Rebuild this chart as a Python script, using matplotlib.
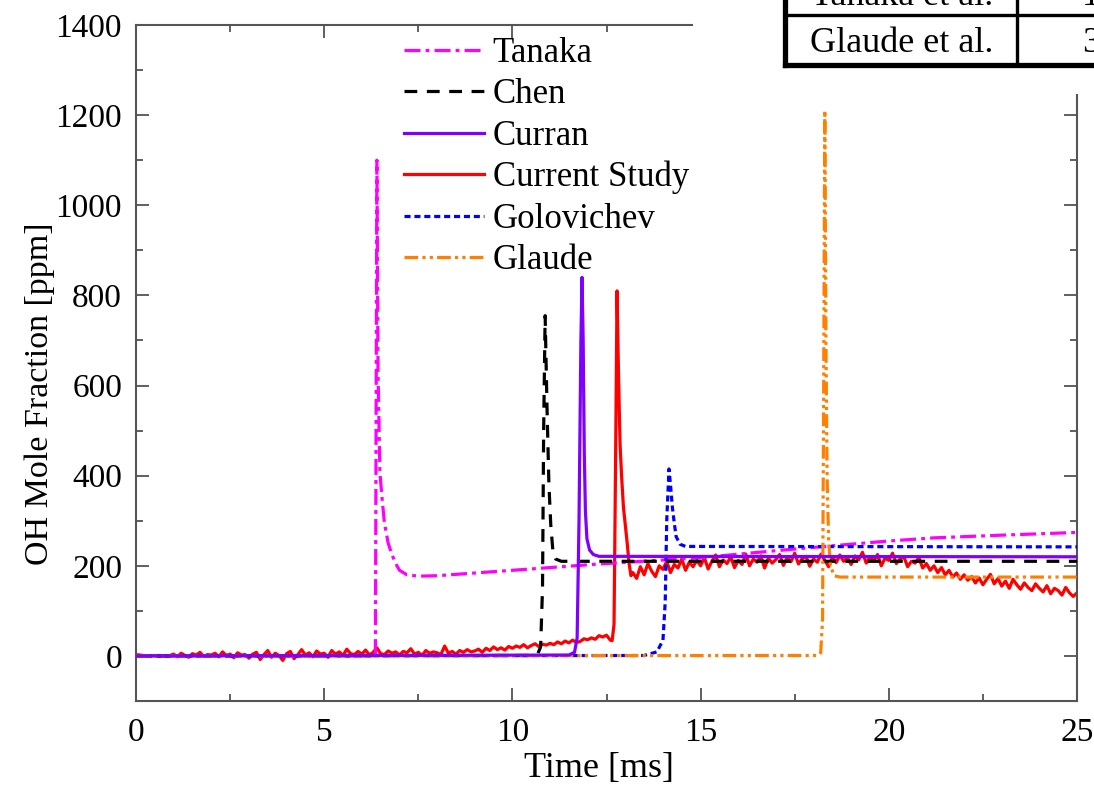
import numpy as np
import matplotlib
matplotlib.use("Agg")
import matplotlib.pyplot as plt
from matplotlib.patches import Rectangle
from matplotlib.lines import Line2D

plt.rcParams['font.family'] = ['Liberation Serif', 'DejaVu Serif']

# ---------------- data ----------------
tanaka_t = [0, 6.36, 6.40, 6.43, 6.48, 6.54, 6.60, 6.70, 6.80, 6.90, 7.0, 7.2, 7.5, 8.0,
            10.0, 12.3, 15.0, 16.8, 18.3, 20.0, 21.2, 23.0, 25.0]
tanaka_y = [0, 0, 1100, 630, 407, 347, 295, 250, 225, 205, 190, 180, 177, 178,
            190, 204, 218, 232, 243, 255, 262, 268, 274]

chen_t = [0, 10.5, 10.68, 10.75, 10.80, 10.83, 10.87, 10.92, 10.97, 11.02, 11.08, 11.15, 11.3, 25.0]
chen_y = [0, 1, 6, 20, 150, 500, 755, 550, 380, 290, 229, 215, 210, 210]

curran_t = [0, 11.5, 11.65, 11.72, 11.77, 11.82, 11.85, 11.88, 11.91, 11.94, 11.98, 12.05, 12.15, 12.3, 25.0]
curran_y = [0, 2, 8, 40, 300, 700, 840, 700, 450, 320, 260, 235, 225, 221, 220]

# Current study (measured trace)
study_pre_t0, study_pre_dt = 0.0, 0.1
study_pre_y = [3, 2, 1, 0, 0, 1, 0, 0, 0, 1,
               4, -2, 6, 1, -3, 5, 2, 8, -1, 3,
               2, 6, -2, 9, 1, 4, -4, 7, 2, 3,
               -5, 4, 8, -8, 3, 12, -3, 6, 1, -10,
               5, 10, -6, 3, 14, 2, 7, -2, 11, 4,
               6, -3, 12, 4, 9, 1, 15, 5, 3, 10,
               4, 13, 2, 8, 18, 5, 3, 11, 6, 9,
               2, 10, 7, 16, 4, 8, 1, 12, 6, 9,
               7, 3, 22, 6, 10, 4, 12, 8, 14, 9,
               11, 15, 8, 17, 12, 20, 14, 18, 13, 21,
               17, 22, 19, 25, 18, 23, 27, 21, 26, 24,
               28, 25, 31, 27, 33, 29, 35, 30, 32, 38,
               36, 40, 37, 45, 42, 46, 35]
study_spike_t = [12.65, 12.70, 12.74, 12.78, 12.82, 12.86, 12.90, 12.95, 13.00, 13.05, 13.10, 13.15]
study_spike_y = [34, 70, 420, 810, 620, 470, 400, 330, 290, 250, 205, 178]
study_post_t0, study_post_dt = 13.2, 0.1
study_post_y = [185, 172, 198, 180, 205, 188, 176, 200,
                192, 210, 185, 203, 195, 215, 190, 208, 198, 212,
                200, 218, 193, 210, 224, 198, 213, 205, 220, 196,
                212, 203, 226, 200, 215, 208, 222, 195, 217, 206,
                214, 225, 201, 218, 209, 228, 204, 216, 221, 199,
                215, 208, 226, 212, 198, 220, 207, 224, 210, 218,
                203, 222, 213, 230, 206, 219, 211, 225, 200, 217,
                212, 228, 205, 215, 220, 198, 210, 206, 218, 195,
                205, 190, 200, 185, 196, 180, 190, 175, 184, 170,
                180, 168, 176, 162, 173, 158, 170, 181, 160, 172,
                155, 166, 150, 170, 158, 148, 162, 152, 145, 160,
                150, 142, 156, 138, 150, 145, 135, 152, 140, 132,
                140]

golo_t = [0, 13.5, 13.84, 14.0, 14.06, 14.10, 14.16, 14.20, 14.25, 14.30, 14.35, 14.45, 14.6, 25.0]
golo_y = [0, 1, 9, 35, 120, 300, 415, 380, 330, 295, 265, 248, 243, 242]

glaude_t = [0, 18.1, 18.19, 18.24, 18.27, 18.30, 18.33, 18.36, 18.40, 18.45, 18.55, 18.7, 25.0]
glaude_y = [0, 1, 7, 80, 600, 1210, 700, 400, 260, 200, 178, 175, 175]

labels = ["Tanaka", "Chen", "Curran", "Current Study", "Golovichev", "Glaude"]
table_rows = ["Tanaka et al.", "Glaude et al."]
table_col2 = ["1", "3"]

# ---------------- figure ----------------
W, H = 1094, 788
fig = plt.figure(figsize=(W / 100, H / 100), dpi=100)
ax = fig.add_axes([136 / W, 1 - 701 / H, (1077 - 136) / W, (701 - 25) / H])

study_t = np.concatenate([study_pre_t0 + study_pre_dt * np.arange(len(study_pre_y)),
                          study_spike_t,
                          study_post_t0 + study_post_dt * np.arange(len(study_post_y))])
study_y = np.concatenate([study_pre_y, study_spike_y, study_post_y])

lw = 2.3
h_study, = ax.plot(study_t, study_y, color='#FF0000', lw=lw, zorder=2)
h_tan, = ax.plot(tanaka_t, tanaka_y, color='#FF00FF', lw=lw,
                 linestyle=(0, (5, 1.6, 1.2, 1.6)), zorder=3)
h_chen, = ax.plot(chen_t, chen_y, color='black', lw=lw,
                  linestyle=(0, (4.0, 3.0)), zorder=3)
h_cur, = ax.plot(curran_t, curran_y, color='#8000FF', lw=lw, zorder=4)
h_golo, = ax.plot(golo_t, golo_y, color='#0000FF', lw=lw,
                  linestyle=(0, (1.9, 1.2)), zorder=3)
h_gla, = ax.plot(glaude_t, glaude_y, color='#FF8000', lw=lw,
                 linestyle=(0, (4.3, 1.3, 1.0, 1.3, 1.0, 1.3)), zorder=3)

ax.set_xlim(0, 25)
ax.set_ylim(-100, 1400)
ax.set_xticks([0, 5, 10, 15, 20, 25])
ax.set_xticks([2.5, 7.5, 12.5, 17.5, 22.5], minor=True)
ax.set_yticks([0, 200, 400, 600, 800, 1000, 1200, 1400])
ax.set_yticks([-100, 100, 300, 500, 700, 900, 1100, 1300], minor=True)

for s in ax.spines.values():
    s.set_color('#555555')
    s.set_linewidth(1.5)
ax.tick_params(which='both', direction='in', top=True, right=True, colors='#444444',
               labelcolor='black', width=1.2)
ax.tick_params(which='major', length=9.5, labelsize=24)
ax.tick_params(which='minor', length=5)
ax.tick_params(axis='y', pad=10)
ax.tick_params(axis='x', pad=12)

ax.set_xlabel("Time [ms]", fontsize=26)
ax.set_ylabel("OH Mole Fraction [ppm]", fontsize=24.5)
ax.xaxis.set_label_coords((599 - 136) / 941, -(768 - 701) / 676)
ax.yaxis.set_label_coords(-(136 - 40) / 941, (701 - 394) / 676)
ax.xaxis.label.set_va('center')
ax.yaxis.label.set_va('center')

leg = ax.legend([h_tan, h_chen, h_cur, h_study, h_golo, h_gla], labels,
                loc='upper left', bbox_to_anchor=((404 - 136) / 941, (701 - 37) / 676),
                frameon=False, fontsize=25, handlelength=2.3, handletextpad=0.25,
                labelspacing=0.24, borderpad=0, borderaxespad=0)

# ---------------- overlaid table (top right) ----------------
def fx(x):
    return x / W

def fy(y):
    return 1 - y / H

fig.add_artist(Rectangle((fx(693), fy(94)), fx(W) - fx(693), fy(0) - fy(94),
                         transform=fig.transFigure, facecolor='white', edgecolor='none', zorder=5))

def hline(x0, x1, y, w):
    fig.add_artist(Line2D([fx(x0), fx(x1)], [fy(y), fy(y)], transform=fig.transFigure,
                          color='black', lw=w, zorder=6, solid_capstyle='projecting'))

def vline(x, y0, y1, w):
    fig.add_artist(Line2D([fx(x), fx(x)], [fy(y0), fy(y1)], transform=fig.transFigure,
                          color='black', lw=w, zorder=6, solid_capstyle='projecting'))

vline(785, -5, 65, 3.8)
vline(1017, -5, 65, 2.4)
hline(785, W + 5, 14.5, 2.4)
hline(785, W + 5, 65, 3.8)

row_baselines = [5, 52]
for name, val, yb in zip(table_rows, table_col2, row_baselines):
    fig.text(fx(902), fy(yb), name, ha='center', va='baseline', fontsize=26, zorder=7)
    fig.text(fx(1082), fy(yb), val, ha='left', va='baseline', fontsize=26, zorder=7)

fig.savefig("out.png", dpi=100)
